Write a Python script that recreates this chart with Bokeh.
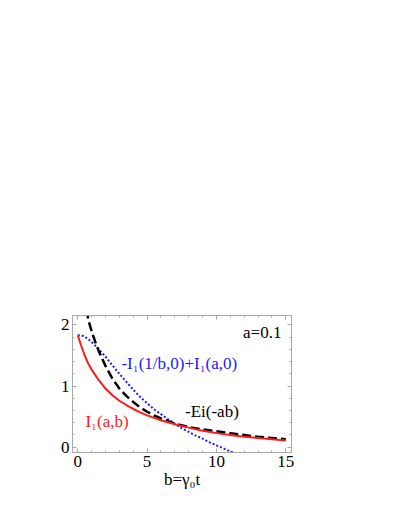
from bokeh.plotting import figure
from bokeh.models import Range1d, LinearAxis, SingleIntervalTicker, Label
from bokeh.embed import file_html
from bokeh.resources import INLINE

# ---- data ----
b_red = [0, 0.25, 0.5, 0.75, 1, 1.5, 2, 2.5, 3, 3.5, 4, 4.5, 5, 6, 7, 8, 9, 10, 11, 12, 13, 14, 15]
I1_ab = [1.83, 1.66, 1.50, 1.37, 1.27, 1.10, 0.96, 0.85, 0.76, 0.69, 0.625, 0.57, 0.52, 0.44,
         0.375, 0.32, 0.27, 0.23, 0.20, 0.17, 0.15, 0.13, 0.11]

b_black = [0.62, 0.8, 1.0, 1.25, 1.5, 2.0, 2.5, 3.0, 3.5, 4.0, 4.5, 5.0, 5.5, 6.0, 7.0, 8.0,
           9.0, 10.0, 11.0, 12.0, 13.0, 14.0, 15.0]
mEi = [2.25, 2.05, 1.90, 1.73, 1.58, 1.33, 1.12, 0.96, 0.84, 0.74, 0.65, 0.58, 0.52, 0.47,
       0.385, 0.33, 0.29, 0.26, 0.23, 0.20, 0.17, 0.15, 0.13]

b_blue = [0, 0.25, 0.5, 0.75, 1.0, 1.5, 2.0, 2.5, 3.0, 3.5, 4.0, 4.5, 5.0, 5.5, 6.0, 6.5,
          7.0, 7.5, 8.0, 8.5, 9.0, 9.5, 10.0, 10.5, 11.0, 11.2]
diff_I1 = [1.83, 1.83, 1.81, 1.77, 1.72, 1.61, 1.48, 1.34, 1.20, 1.07, 0.94, 0.82, 0.72,
           0.62, 0.54, 0.46, 0.38, 0.31, 0.25, 0.19, 0.14, 0.08, 0.03, -0.02, -0.07, -0.09]

x_ticks_interval = 5
y_ticks_interval = 1

SERIF = "'Liberation Serif', 'Times New Roman', serif"
RED = "#ff1a1a"
BLUE = "#1a1aff"
GRAY = "#a8a8a8"

p = figure(width=398, height=513, output_backend="svg", toolbar_location=None,
           x_range=Range1d(-0.38, 15.41), y_range=Range1d(-0.087, 2.155),
           x_axis_location=None, y_axis_location=None)
p.min_border_left = 72
p.min_border_right = 107
p.min_border_top = 315
p.min_border_bottom = 61
p.grid.visible = False
p.outline_line_color = GRAY
p.background_fill_color = "white"
p.border_fill_color = "white"


def style_axis(ax, labels=True):
    ax.axis_line_color = GRAY
    ax.major_tick_line_color = GRAY
    ax.minor_tick_line_color = GRAY
    ax.major_tick_in = 4
    ax.major_tick_out = 0
    ax.minor_tick_in = 2
    ax.minor_tick_out = 0
    ax.major_label_text_font = SERIF
    ax.major_label_text_font_size = "17px"
    ax.major_label_text_color = "black"
    ax.major_label_standoff = 3
    if not labels:
        ax.major_label_text_font_size = "0px"
        ax.major_label_text_alpha = 0


xb = LinearAxis(ticker=SingleIntervalTicker(interval=x_ticks_interval, num_minor_ticks=5))
style_axis(xb)
xb.axis_label = "b=\u03b3\u2080t"
xb.axis_label_text_font = SERIF
xb.axis_label_text_font_size = "17px"
xb.axis_label_text_font_style = "normal"
xb.axis_label_text_color = "black"
xb.axis_label_standoff = 0
p.add_layout(xb, "below")
xt = LinearAxis(ticker=SingleIntervalTicker(interval=x_ticks_interval, num_minor_ticks=5))
style_axis(xt, labels=False)
p.add_layout(xt, "above")
yl = LinearAxis(ticker=SingleIntervalTicker(interval=y_ticks_interval, num_minor_ticks=5))
style_axis(yl)
p.add_layout(yl, "left")
yr = LinearAxis(ticker=SingleIntervalTicker(interval=y_ticks_interval, num_minor_ticks=5))
style_axis(yr, labels=False)
p.add_layout(yr, "right")

p.line(b_blue, diff_I1, line_color=BLUE, line_width=2, line_dash="2 2")
p.line(b_black, mEi, line_color="black", line_width=2.5, line_dash="9 4")
p.line(b_red, I1_ab, line_color=RED, line_width=2)


def lab(x, y, text, color="black"):
    p.add_layout(Label(x=x, y=y, text=text, text_font=SERIF, text_font_size="17px",
                       text_color=color, text_align="center", text_baseline="middle"))


lab(13.3, 1.87, "a=0.1")
lab(7.32, 1.365, "-I\u2081(1/b,0)+I\u2081(a,0)", BLUE)
lab(9.67, 0.585, "-Ei(-ab)")
lab(2.11, 0.425, "I\u2081(a,b)", RED)

open("out.html", "w").write(file_html(p, INLINE))
